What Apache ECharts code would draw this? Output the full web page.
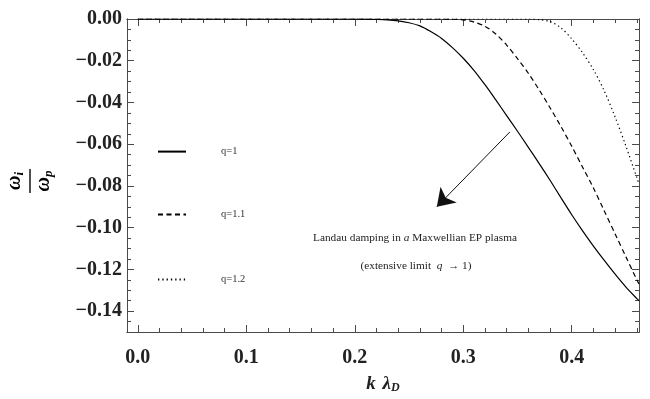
<!DOCTYPE html>
<html>
<head>
<meta charset="utf-8">
<script src="https://cdn.jsdelivr.net/npm/echarts@6/dist/echarts.min.js"></script>
<style>html,body{margin:0;padding:0;background:#fff;}#c{width:650px;height:399px;}</style>
</head>
<body>
<div id="c"></div>
<script>
const kGrid = [0, 0.1, 0.2, 0.21, 0.22, 0.23, 0.24, 0.25, 0.26, 0.27, 0.28, 0.29, 0.30, 0.31, 0.32, 0.33, 0.34, 0.35, 0.36, 0.37, 0.38, 0.39, 0.40, 0.41, 0.42, 0.43, 0.44, 0.45, 0.46, 0.462];
const q1 = [0, 0, 0, -0.0001, -0.0002, -0.0004, -0.0009, -0.0018, -0.0033, -0.006, -0.0093, -0.0137, -0.0188, -0.0247, -0.0315, -0.0388, -0.0463, -0.0538, -0.0615, -0.0693, -0.0773, -0.0856, -0.0938, -0.1015, -0.1088, -0.1157, -0.1223, -0.1285, -0.134, -0.135];
const q11 = [0, 0, 0, 0, 0, 0, 0, 0, 0, 0, 0, -0.0001, -0.0004, -0.0015, -0.0035, -0.0072, -0.0125, -0.019, -0.026, -0.034, -0.0425, -0.0515, -0.061, -0.071, -0.081, -0.092, -0.103, -0.114, -0.125, -0.127];
const q12 = [0, 0, 0, 0, 0, 0, 0, 0, 0, 0, 0, 0, 0, 0, 0, 0, 0, 0, 0, -0.0003, -0.0012, -0.0042, -0.0095, -0.0162, -0.0243, -0.0345, -0.047, -0.061, -0.076, -0.079];
const seriesNames = ['q=1', 'q=1.1', 'q=1.2'];

const xMajorTicks = [0, 0.1, 0.2, 0.3, 0.4];
const xMinorTicks = [0.02, 0.04, 0.06, 0.08, 0.12, 0.14, 0.16, 0.18, 0.22, 0.24, 0.26, 0.28, 0.32, 0.34, 0.36, 0.38, 0.42, 0.44, 0.46];
const yMajorTicks = [0, -0.02, -0.04, -0.06, -0.08, -0.10, -0.12, -0.14];
const yMinorTicks = [-0.005, -0.01, -0.015, -0.025, -0.03, -0.035, -0.045, -0.05, -0.055, -0.065, -0.07, -0.075, -0.085, -0.09, -0.095, -0.105, -0.11, -0.115, -0.125, -0.13, -0.135, -0.145];

const arrowFrom = [0.343, -0.0541];
const arrowTo = [0.2756, -0.090];

const SERIF = "'Liberation Serif', 'DejaVu Serif', serif";
const AXIS_COLOR = '#4a4a4a';

function pairs(ys) { return kGrid.map((k, i) => [k, ys[i]]); }
function fmt(v, d) { const s = Math.abs(v).toFixed(d); return v < 0 ? '\u2212' + s : s; }

function xAx(pos, ticks, len, labels, extra) {
  return Object.assign({
    type: 'value', min: -0.01, max: 0.462, position: pos,
    splitLine: { show: false },
    axisLine: { show: true, onZero: false, lineStyle: { color: AXIS_COLOR, width: 1 } },
    axisTick: { show: true, inside: true, length: len, customValues: ticks.slice(), lineStyle: { color: AXIS_COLOR, width: 1 } },
    axisLabel: labels ? { show: true, customValues: ticks.slice(), formatter: v => fmt(v, 1), fontFamily: SERIF, fontWeight: 'bold', fontSize: 20, color: '#222', margin: 16 } : { show: false }
  }, extra || {});
}
function yAx(pos, ticks, len, labels) {
  return {
    type: 'value', min: -0.15, max: 0, position: pos,
    splitLine: { show: false },
    axisLine: { show: true, onZero: false, lineStyle: { color: AXIS_COLOR, width: 1 } },
    axisTick: { show: true, inside: true, length: len, customValues: ticks.slice(), lineStyle: { color: AXIS_COLOR, width: 1 } },
    axisLabel: labels ? { show: true, customValues: ticks.slice(), formatter: v => fmt(v, 2), fontFamily: SERIF, fontWeight: 'bold', fontSize: 20, color: '#222', margin: 5 } : { show: false, customValues: ticks.slice() }
  };
}

const chart = echarts.init(document.getElementById('c'), null, { renderer: 'canvas' });

const lineTypes = ['solid', [5, 3.5], [1.3, 3]];
const dataSets = [q1, q11, q12];

const option = {
  animation: false,
  backgroundColor: '#fff',
  grid: { left: 127, right: 11, top: 19, bottom: 59, containLabel: false },
  xAxis: [
    xAx('bottom', xMajorTicks, 7, true, {
      name: '{k|k}  {l|λ}{s|D}', nameLocation: 'middle', nameGap: 42,
      nameTextStyle: { rich: {
        k: { fontFamily: SERIF, fontWeight: 'bold', fontStyle: 'italic', fontSize: 19, color: '#222' },
        l: { fontFamily: SERIF, fontWeight: 'bold', fontStyle: 'italic', fontSize: 19, color: '#222' },
        s: { fontFamily: SERIF, fontWeight: 'bold', fontStyle: 'italic', fontSize: 12, color: '#222', padding: [8, 0, 0, 0] }
      } }
    }),
    xAx('bottom', xMinorTicks, 4, false),
    xAx('top', xMajorTicks, 7, false),
    xAx('top', xMinorTicks, 4, false)
  ],
  yAxis: [
    yAx('left', yMajorTicks, 7, true),
    yAx('left', yMinorTicks, 4, false),
    yAx('right', yMajorTicks, 7, false),
    yAx('right', yMinorTicks, 4, false)
  ],
  legend: seriesNames.map((n, i) => ({
    data: [n], left: 157, top: [146, 209, 274][i], padding: 0,
    itemWidth: 28, itemHeight: 14, selectedMode: false,
    itemStyle: { opacity: 0, borderWidth: 0 },
    textStyle: { fontFamily: SERIF, fontSize: 10.5, color: '#333', padding: [0, 0, 0, 30] }
  })),
  series: seriesNames.map((n, i) => {
    const s = {
      name: n, type: 'line', xAxisIndex: 0, yAxisIndex: 0,
      data: pairs(dataSets[i]), symbol: 'none', showSymbol: false,
      smooth: 0.3, clip: true,
      lineStyle: { color: '#000', width: 1.2, type: lineTypes[i] },
      itemStyle: { color: '#000' },
      emphasis: { disabled: true }
    };
    if (i === 0) {
      s.markLine = {
        silent: true, animation: false,
        symbol: ['none', 'arrow'], symbolSize: 17,
        label: { show: false },
        lineStyle: { color: '#111', width: 1, type: 'solid' },
        itemStyle: { color: '#111' },
        emphasis: { disabled: true },
        data: [[{ coord: arrowFrom }, { coord: arrowTo }]]
      };
    }
    return s;
  }),
  graphic: [
    {
      type: 'group', x: 30, y: 181, rotation: Math.PI / 2,
      children: [
        { type: 'line', shape: { x1: -12, y1: 0, x2: 12, y2: 0 }, style: { stroke: '#222', lineWidth: 1.6 } },
        { type: 'text', x: 0, y: -4, style: {
          text: '{w|ω}{s|i}', align: 'center', verticalAlign: 'bottom',
          rich: {
            w: { fontFamily: SERIF, fontStyle: 'italic', fontWeight: 'bold', fontSize: 20, color: '#222' },
            s: { fontFamily: SERIF, fontStyle: 'italic', fontWeight: 'bold', fontSize: 13, color: '#222', padding: [9, 0, 0, 0] }
          } } },
        { type: 'text', x: 0, y: 3, style: {
          text: '{w|ω}{s|p}', align: 'center', verticalAlign: 'top',
          rich: {
            w: { fontFamily: SERIF, fontStyle: 'italic', fontWeight: 'bold', fontSize: 20, color: '#222' },
            s: { fontFamily: SERIF, fontStyle: 'italic', fontWeight: 'bold', fontSize: 13, color: '#222', padding: [9, 0, 0, 0] }
          } } }
      ]
    },
    {
      type: 'text', x: 415, y: 238, style: {
        text: 'Landau damping in {i|a} Maxwellian EP plasma', align: 'center', verticalAlign: 'middle',
        fontFamily: SERIF, fontSize: 11.3, fill: '#222',
        rich: { i: { fontFamily: SERIF, fontSize: 11.3, fontStyle: 'italic', color: '#222' } }
      }
    },
    {
      type: 'text', x: 416, y: 266, style: {
        text: '(extensive limit  {i|q}  → 1)', align: 'center', verticalAlign: 'middle',
        fontFamily: SERIF, fontSize: 11.3, fill: '#222',
        rich: { i: { fontFamily: SERIF, fontSize: 11.3, fontStyle: 'italic', color: '#222' } }
      }
    }
  ]
};
chart.setOption(option);
</script>
</body>
</html>
